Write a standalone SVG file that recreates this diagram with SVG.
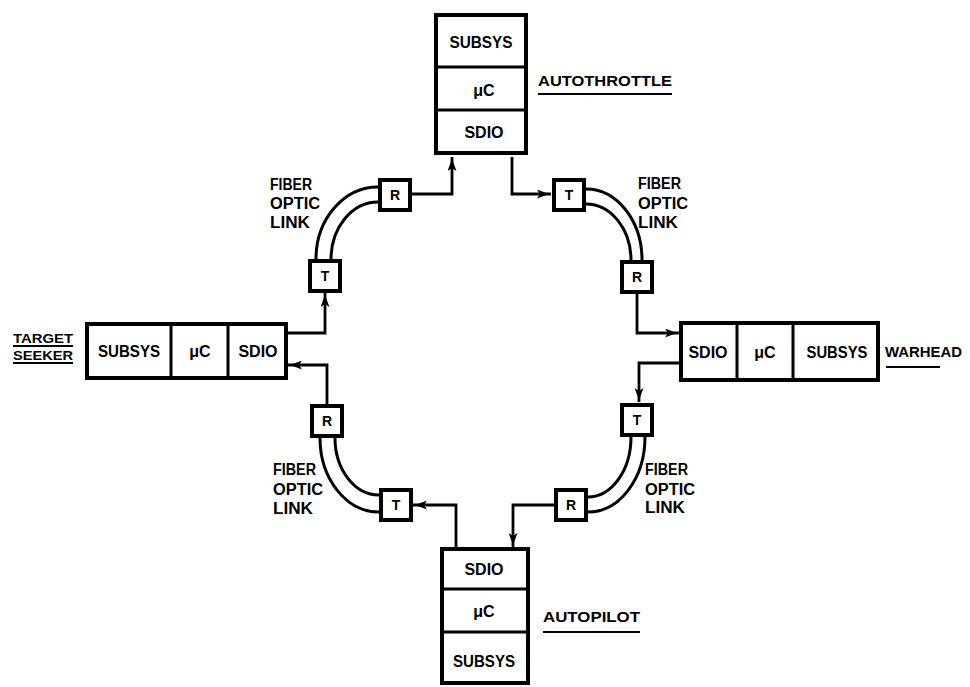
<svg xmlns="http://www.w3.org/2000/svg" width="970" height="687" viewBox="0 0 970 687">
<defs>
<style>
.blk{fill:#fff;stroke:#000;stroke-width:4}
.div{stroke:#000;stroke-width:3}
.box{fill:#fff;stroke:#000;stroke-width:4}
.t{font-family:"Liberation Sans",Arial,sans-serif;font-weight:bold;fill:#000}
.bt{font-size:16px;text-anchor:middle}
.tr{font-size:14px;text-anchor:middle}
.lb{font-size:16px}
.ln{fill:none;stroke:#000;stroke-width:2.8}
.fib{fill:none;stroke:#000;stroke-width:3}
.ul{stroke:#000;stroke-width:2}
</style>
<marker id="ah" markerUnits="userSpaceOnUse" markerWidth="15" markerHeight="9" refX="14" refY="4.5" orient="auto">
<path d="M0,0 L12,4.5 L0,9 L3,4.5 z" fill="#000"/>
</marker>
</defs>
<rect width="970" height="687" fill="#fff"/>

<g id="connectors">
<path class="ln" d="M412,194 H452 V157" marker-end="url(#ah)"/>
<path class="ln" d="M512,157 V194 H551" marker-end="url(#ah)"/>
<path class="ln" d="M637,294 V333 H679" marker-end="url(#ah)"/>
<path class="ln" d="M679,363 H639 V402" marker-end="url(#ah)"/>
<path class="ln" d="M554,505 H513 V547" marker-end="url(#ah)"/>
<path class="ln" d="M456,547 V505 H413" marker-end="url(#ah)"/>
<path class="ln" d="M327,404 V365 H288" marker-end="url(#ah)"/>
<path class="ln" d="M288,333 H325 V293" marker-end="url(#ah)"/>
</g>

<g id="fiber-links">
<path class="fib" d="M316,259 A62,72 0 0 1 378,187"/>
<path class="fib" d="M331,259 A47,57 0 0 1 378,202"/>
<path class="fib" d="M586,189 A56,71 0 0 1 642,260"/>
<path class="fib" d="M586,204 A45,56 0 0 1 631,260"/>
<path class="fib" d="M645,437 A57,75 0 0 1 588,512"/>
<path class="fib" d="M631,437 A43,60 0 0 1 588,497"/>
<path class="fib" d="M320,438 A59,74 0 0 0 379,512"/>
<path class="fib" d="M335,438 A44,57 0 0 0 379,495"/>
</g>

<g id="autothrottle">
<rect class="blk" x="436" y="15" width="90" height="138"/>
<line class="div" x1="436" y1="67" x2="526" y2="67"/>
<line class="div" x1="436" y1="110" x2="526" y2="110"/>
<text class="t bt" x="481" y="48" textLength="63" lengthAdjust="spacingAndGlyphs">SUBSYS</text>
<text class="t bt" x="484" y="96">μC</text>
<text class="t bt" x="484" y="138">SDIO</text>
<text class="t" x="538" y="86" font-size="15" textLength="134" lengthAdjust="spacingAndGlyphs">AUTOTHROTTLE</text>
<line class="ul" x1="538" y1="94" x2="672" y2="94"/>
</g>

<g id="target-seeker">
<rect class="blk" x="87" y="324" width="199" height="54"/>
<line class="div" x1="171" y1="324" x2="171" y2="378"/>
<line class="div" x1="228" y1="324" x2="228" y2="378"/>
<text class="t bt" x="129" y="357" textLength="62" lengthAdjust="spacingAndGlyphs">SUBSYS</text>
<text class="t bt" x="200" y="357">μC</text>
<text class="t bt" x="258" y="357">SDIO</text>
<text class="t" x="13" y="343" font-size="13" textLength="60" lengthAdjust="spacingAndGlyphs">TARGET</text>
<line class="ul" x1="13" y1="346" x2="73" y2="346"/>
<text class="t" x="13" y="360" font-size="13" textLength="60" lengthAdjust="spacingAndGlyphs">SEEKER</text>
<line class="ul" x1="13" y1="363" x2="73" y2="363"/>
</g>

<g id="warhead">
<rect class="blk" x="681" y="323" width="197" height="57"/>
<line class="div" x1="737" y1="323" x2="737" y2="380"/>
<line class="div" x1="793" y1="323" x2="793" y2="380"/>
<text class="t bt" x="708" y="358">SDIO</text>
<text class="t bt" x="765" y="358">μC</text>
<text class="t bt" x="837" y="358" textLength="61" lengthAdjust="spacingAndGlyphs">SUBSYS</text>
<text class="t" x="885" y="357" font-size="14" textLength="77" lengthAdjust="spacingAndGlyphs">WARHEAD</text>
<line class="ul" x1="886" y1="367" x2="940" y2="367"/>
</g>

<g id="autopilot">
<rect class="blk" x="442" y="549" width="86" height="134"/>
<line class="div" x1="442" y1="589" x2="528" y2="589"/>
<line class="div" x1="442" y1="632" x2="528" y2="632"/>
<text class="t bt" x="484" y="575">SDIO</text>
<text class="t bt" x="484" y="617">μC</text>
<text class="t bt" x="484" y="667" textLength="62" lengthAdjust="spacingAndGlyphs">SUBSYS</text>
<text class="t" x="543" y="622" font-size="15" textLength="97" lengthAdjust="spacingAndGlyphs">AUTOPILOT</text>
<line class="ul" x1="543" y1="632" x2="640" y2="632"/>
</g>

<g id="tl-r"><rect class="box" x="380" y="180" width="30" height="30"/><text class="t tr" x="395" y="200">R</text></g>
<g id="tl-t"><rect class="box" x="310" y="261" width="30" height="30"/><text class="t tr" x="325" y="281">T</text></g>
<g id="tr-t"><rect class="box" x="554" y="180" width="30" height="30"/><text class="t tr" x="569" y="200">T</text></g>
<g id="tr-r"><rect class="box" x="622" y="262" width="30" height="30"/><text class="t tr" x="637" y="282">R</text></g>
<g id="br-t"><rect class="box" x="622" y="405" width="30" height="30"/><text class="t tr" x="637" y="425">T</text></g>
<g id="br-r"><rect class="box" x="556" y="490" width="30" height="30"/><text class="t tr" x="571" y="510">R</text></g>
<g id="bl-r"><rect class="box" x="312" y="406" width="30" height="30"/><text class="t tr" x="327" y="426">R</text></g>
<g id="bl-t"><rect class="box" x="381" y="490" width="30" height="30"/><text class="t tr" x="396" y="510">T</text></g>

<g id="label-tl">
<text class="t lb" x="270" y="190" textLength="42" lengthAdjust="spacingAndGlyphs">FIBER</text>
<text class="t lb" x="270" y="209" textLength="50" lengthAdjust="spacingAndGlyphs">OPTIC</text>
<text class="t lb" x="270" y="228" textLength="40" lengthAdjust="spacingAndGlyphs">LINK</text>
</g>
<g id="label-tr">
<text class="t lb" x="638" y="189" textLength="43" lengthAdjust="spacingAndGlyphs">FIBER</text>
<text class="t lb" x="638" y="209" textLength="50" lengthAdjust="spacingAndGlyphs">OPTIC</text>
<text class="t lb" x="638" y="228" textLength="40" lengthAdjust="spacingAndGlyphs">LINK</text>
</g>
<g id="label-bl">
<text class="t lb" x="273" y="475" textLength="43" lengthAdjust="spacingAndGlyphs">FIBER</text>
<text class="t lb" x="273" y="495" textLength="50" lengthAdjust="spacingAndGlyphs">OPTIC</text>
<text class="t lb" x="273" y="514" textLength="40" lengthAdjust="spacingAndGlyphs">LINK</text>
</g>
<g id="label-br">
<text class="t lb" x="645" y="475" textLength="43" lengthAdjust="spacingAndGlyphs">FIBER</text>
<text class="t lb" x="645" y="495" textLength="50" lengthAdjust="spacingAndGlyphs">OPTIC</text>
<text class="t lb" x="645" y="513" textLength="40" lengthAdjust="spacingAndGlyphs">LINK</text>
</g>
</svg>
